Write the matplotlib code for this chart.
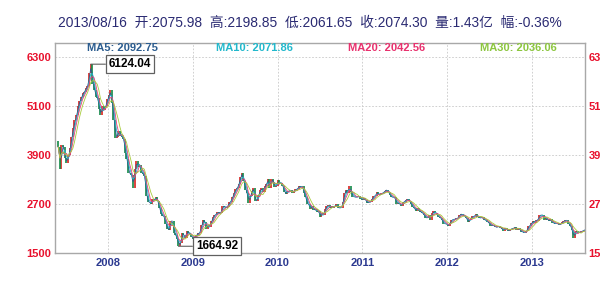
import matplotlib
matplotlib.use("Agg")
import matplotlib.pyplot as plt
import numpy as np
import pandas as pd

# ---- data: weekly price path ----
close_2007 = [4100, 3550, 4150, 4090, 3820, 3700, 3900, 4060, 4340, 4560, 4750, 4870, 5110, 5220,
              5310, 5420, 5450, 5550, 5600, 5910, 6124.04, 5650, 5500, 5320, 5300, 5030, 4870,
              5090, 5010, 5100, 5260]
close_2008 = [5360, 5480, 5180, 4760, 4320, 4350, 4500, 4370, 4350, 4300, 3960, 3800, 3470,
              3450, 3400, 3090, 3560, 3760, 3610, 3650, 3470, 3430, 3380, 2900, 2750, 2740,
              2710, 2820, 2800, 2860, 2770, 2600, 2450, 2400, 2400, 2200, 2080, 2070, 2290,
              2290, 2000, 1930, 1840, 1664.92, 1750, 1990, 1930, 1870, 2030, 2000, 1960, 1880]
close_2009 = [1850, 1900, 1950, 1990, 1990, 2180, 2320, 2260, 2080, 2190, 2130, 2280, 2370,
              2440, 2440, 2510, 2470, 2480, 2660, 2630, 2610, 2630, 2750, 2750, 2880, 2960,
              3060, 3100, 3190, 3370, 3460, 3260, 3050, 2960, 2720, 2900, 3030, 3080, 2780,
              2780, 2910, 3040, 3080, 2990, 3150, 3190, 3310, 3100, 3320, 3250, 3110, 3150]
close_2010 = [3277, 3200, 3220, 3130, 2990, 2940, 3020, 3020, 3050, 2970, 3010, 3070, 3060,
              3140, 3120, 3130, 2980, 2870, 2690, 2700, 2580, 2650, 2550, 2570, 2510, 2540,
              2380, 2470, 2420, 2570, 2640, 2670, 2600, 2640, 2610, 2660, 2690, 2600, 2610,
              2610, 2740, 2970, 3050, 2980, 3130, 2990, 2880, 2880, 2860, 2880, 2900, 2830, 2810]
close_2011 = [2840, 2790, 2720, 2750, 2750, 2830, 2900, 2900, 2990, 2940, 2910, 2980,
              2970, 3030, 3050, 2990, 2910, 2860, 2870, 2860, 2710, 2730, 2710, 2640, 2750,
              2760, 2800, 2820, 2770, 2700, 2630, 2590, 2530, 2610, 2530, 2500, 2480, 2430, 2360,
              2360, 2440, 2320, 2470, 2530, 2480, 2420, 2390, 2360, 2310, 2220, 2220, 2200]
close_2012 = [2160, 2240, 2320, 2320, 2330, 2350, 2360, 2440, 2460, 2420, 2400, 2350, 2260,
              2300, 2360, 2400, 2400, 2450, 2390, 2350, 2370, 2370, 2300, 2310, 2260, 2230,
              2170, 2180, 2170, 2130, 2130, 2170, 2110, 2090, 2050, 2120, 2080, 2030, 2090,
              2090, 2110, 2130, 2070, 2110, 2070, 2010, 2020, 1980, 2030, 2150, 2160, 2230]
close_2013 = [2280, 2240, 2320, 2290, 2420, 2430, 2430, 2320, 2360, 2320, 2280, 2330, 2240,
              2230, 2210, 2240, 2180, 2210, 2250, 2280, 2300, 2300, 2210, 2160, 2070, 1860,
              2010, 2040, 1990, 2010, 2030, 2050, 2074.30]
year_starts = ["2007-06-01", "2008-01-01", "2009-01-01", "2010-01-01",
               "2011-01-01", "2012-01-01", "2013-01-01"]

y_ticks = [1500, 2700, 3900, 5100, 6300]
x_years = [2008, 2009, 2010, 2011, 2012, 2013]
ma_names = ["MA5", "MA10", "MA20", "MA30"]
ma_values = ["2092.75", "2071.86", "2042.56", "2036.06"]
ma_windows = [2, 3, 4, 6]
title_fields = ["2013/08/16", "开:2075.98", "高:2198.85", "低:2061.65", "收:2074.30",
                "量:1.43亿", "幅:-0.36%"]

# ---- build series ----
parts = [close_2007, close_2008, close_2009, close_2010, close_2011, close_2012, close_2013]
dates = []
closes = []
for start, vals in zip(year_starts, parts):
    dates.extend(pd.date_range(start, periods=len(vals), freq="W-FRI"))
    closes.extend(vals)
s = pd.Series(closes, index=pd.DatetimeIndex(dates))
opens = s.shift(1).fillna(s.iloc[0] + 150)

fig = plt.figure(figsize=(6.0, 2.84), dpi=100)
ax = fig.add_axes([55/600, 1-253/284, 530/600, 210/284])

up = s >= opens
ax.vlines(s.index[up], opens[up], s[up], color="#D8231F", lw=1.2, zorder=3)
ax.vlines(s.index[~up], opens[~up], s[~up], color="#128A46", lw=1.2, zorder=3)

ma_colors = ["#2B5C8F", "#22B8CC", "#E8407A", "#A8CC3C"]
ma_text_colors = ["#2B5C8F", "#22B8CC", "#E8326E", "#8CC63F"]
for w, c in zip(ma_windows, ma_colors):
    ax.plot(s.index, s.rolling(w, min_periods=1).mean(), color=c, lw=0.6, zorder=4)

ax.set_xlim(pd.Timestamp("2007-05-18"), pd.Timestamp("2013-08-18"))
ax.set_ylim(1500, 6643)
ax.set_yticks(y_ticks)
ax.set_yticklabels([str(v) for v in y_ticks])
ax.set_xticks([pd.Timestamp(f"{y}-01-01") for y in x_years])
ax.set_xticklabels([str(y) for y in x_years])
ax.grid(True, color="#C8C8C8", lw=0.6, ls=(0, (2, 2)))
ax.set_axisbelow(True)
for sp in ax.spines.values():
    sp.set_color("#A8A8A8")
    sp.set_linewidth(1.0)
ax.tick_params(axis="y", length=0, pad=2.5, labelright=True, labelcolor="#E8112D",
               labelsize=8)
ax.tick_params(axis="x", length=0, pad=3.5, labelcolor="#2B3990", labelsize=8)
for lab in ax.get_yticklabels() + ax.get_xticklabels() + \
        [t.label2 for t in ax.yaxis.get_major_ticks()]:
    lab.set_fontfamily("Liberation Sans")
    lab.set_fontweight("bold")

# annotations of max / min
imax = s.idxmax(); imin = s.idxmin()
bbox = dict(boxstyle="square,pad=0.25", fc="white", ec="#606060", lw=0.9)
ax.annotate(f"{s.max():.2f}", xy=(imax, s.max()), xytext=(13, 0), textcoords="offset points",
            ha="left", va="center", fontsize=8.5, fontweight="bold", family="Liberation Sans",
            bbox=bbox, arrowprops=dict(arrowstyle="-", color="#606060", lw=0.8,
                                       shrinkA=0, shrinkB=0), zorder=6)
ax.annotate(f"{s.min():.2f}", xy=(imin, s.min()), xytext=(12.5, 0), textcoords="offset points",
            ha="left", va="center", fontsize=8.5, fontweight="bold", family="Liberation Sans",
            bbox=bbox, arrowprops=dict(arrowstyle="-", color="#606060", lw=0.8,
                                       shrinkA=0, shrinkB=0), zorder=6)

# MA legend texts
ma_centers = [122, 254.5, 386.5, 518.5]
for name, val, c, xc in zip(ma_names, ma_values, ma_text_colors, ma_centers):
    fig.text(xc/600, 1-48/284, f"{name}: {val}", color=c,
             ha="center", va="center", fontsize=8, fontweight="bold",
             family="Liberation Sans")

fig.text(58/600, 1-23/284, "  ".join(title_fields), color="#2A2A72", ha="left", va="center",
         fontsize=9.9, family=["Liberation Sans", "Noto Sans CJK SC"])

fig.savefig("out.png", dpi=100, facecolor="white")
